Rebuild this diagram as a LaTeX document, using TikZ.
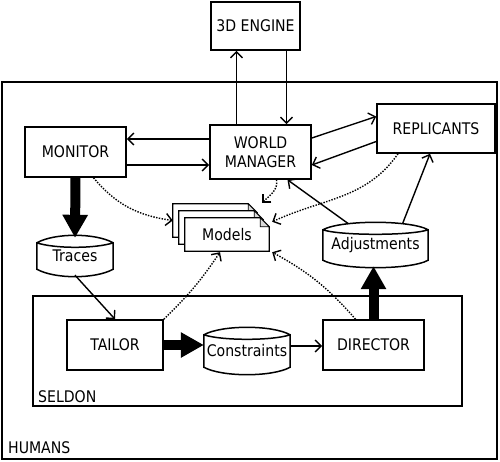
\documentclass[tikz,border=0pt]{standalone}
\usepackage{fontspec}
\setmainfont{DejaVu Sans}[FakeStretch=0.88]
\usetikzlibrary{arrows.meta, positioning, calc}

\begin{document}
\begin{tikzpicture}[
  x=1pt, y=1pt,
  font=\fontsize{16}{19}\selectfont,
  box/.style={draw, line width=1.6pt, align=center, minimum width=#1, minimum height=50pt, inner sep=2pt},
  frame/.style={draw, line width=1.6pt, minimum width=#1, inner sep=0pt},
  store/.style={minimum width=#1, inner sep=0pt,
    append after command={\pgfextra{\let\stnode\tikzlastnode
      \draw[line width=1.5pt] (\stnode.north west) .. controls +(18,10) and +(-18,10) .. (\stnode.north east)
        -- (\stnode.south east) .. controls +(-18,-10) and +(18,-10) .. (\stnode.south west) -- cycle
        (\stnode.north west) .. controls +(18,-6) and +(-18,-6) .. (\stnode.north east);}}},
  page/.style={minimum width=84pt, minimum height=33pt, inner sep=0pt,
    append after command={\pgfextra{\let\pgnode\tikzlastnode
      \draw[line width=1.3pt, fill=white] (\pgnode.south west) -- (\pgnode.north west)
        -- ($(\pgnode.north east)+(-9,0)$) -- ($(\pgnode.north east)+(0,-9)$) -- (\pgnode.south east) -- cycle;
      \draw[line width=0.8pt, fill=gray!30] ($(\pgnode.north east)+(-9,0)$) -- ($(\pgnode.north east)+(-9,-9)$)
        -- ($(\pgnode.north east)+(0,-9)$) -- cycle;}}},
  arrow/.style={-{Straight Barb[length=6pt, width=12pt]}, line width=1.4pt},
  fat/.style={-{Triangle[length=23pt, width=24pt]}, line width=10pt},
  dots/.style={arrow, dash pattern=on 1.4pt off 1.4pt}
]
  \useasboundingbox (0,0) rectangle (500,461);

  % frames
  \node[frame=495pt, minimum height=377pt] (humans) at (249.5,190.5) {};
  \node[frame=429pt, minimum height=110pt] (seldon) at (247.5,110) {};
  \node[anchor=base west, inner sep=0pt] (humanslbl) at (8,8) {HUMANS};
  \node[anchor=base west, inner sep=0pt] (seldonlbl) at (38,59) {SELDON};

  % boxes
  \node[box=89pt, minimum height=48pt] (engine) at (255.5,435) {3D ENGINE};
  \node[box=101pt] (monitor) at (75.5,309) {MONITOR};
  \node[box=101pt, minimum height=54pt] (world) at (260.5,309) {WORLD\\MANAGER};
  \node[box=118pt, minimum height=49pt] (repl) at (436,332.5) {REPLICANTS};
  \node[box=96pt] (tailor) at (115,116) {TAILOR};
  \node[box=101pt] (director) at (373.5,116) {DIRECTOR};

  % stores
  \node[store=76pt, minimum height=26pt] (traces) at (75,205) {Traces};
  \node[store=86pt, minimum height=32pt] (constr) at (247,110) {Constraints};
  \node[store=105pt, minimum height=30pt] (adjust) at (375.5,216) {Adjustments};

  % models
  \node[page] (models3) at (215,240.5) {};
  \node[page] (models2) at (221,233.5) {};
  \node[page] (models) at (227,226.5) {Models};

  % solid links
  \draw[arrow] ([xshift=-24pt]world.north) -- ([xshift=-24pt]world.north |- engine.south);
  \draw[arrow] ([xshift=31pt]engine.south) -- ([xshift=31pt]engine.south |- world.north);
  \draw[arrow] ([yshift=13pt]world.west) -- ([yshift=13pt]world.west -| monitor.east);
  \draw[arrow] ([yshift=-13pt]monitor.east) -- ([yshift=-13pt]monitor.east -| world.west);
  \draw[arrow] ([yshift=14pt]world.east) -- ([yshift=12pt]repl.west);
  \draw[arrow] ([yshift=-13pt]repl.west) -- ([yshift=-13pt]world.east);
  \draw[arrow] ($(traces.south)+(0,-6)$) -- (tailor.north);
  \draw[arrow] ($(adjust.north)+(-27,6)$) -- ([xshift=27pt]world.south);
  \draw[arrow] ($(adjust.north)+(27,6)$) -- ([xshift=-6pt]repl.south);
  \draw[arrow] ([yshift=5pt]constr.east) -- ([yshift=5pt]constr.east -| director.west);

  % heavy links
  \draw[fat] (monitor.south) -- ($(traces.north)+(0,5)$);
  \draw[fat] (tailor.east) -- (tailor.east -| constr.west);
  \draw[fat] (director.north) -- ($(director.north |- adjust.south)+(0,-6)$);

  % dotted links to models
  \draw[dots] ([xshift=18pt]monitor.south) to[out=-50, in=172] (models3.west);
  \draw[dots] ([xshift=16pt]world.south) to[out=-80, in=45] ($(models3.north east)+(5,1)$);
  \draw[dots] ([xshift=-38pt]repl.south) to[out=-125, in=25] ($(models.north east)+(3,-4)$);
  \draw[dots] ([xshift=-18pt]director.north) to[bend right=10] ($(models.south east)+(3,-1)$);
  \draw[dots] (tailor.north east) to[bend right=6] ($(models.south)+(-7,-1)$);
\end{tikzpicture}
\end{document}
